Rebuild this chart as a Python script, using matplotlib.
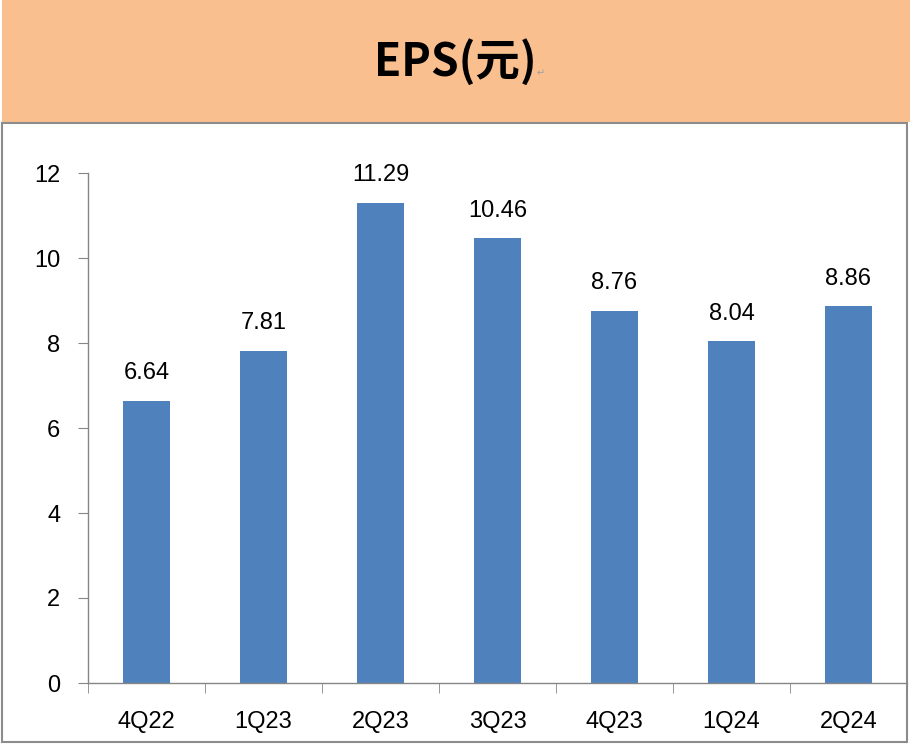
import matplotlib
matplotlib.use("Agg")
import matplotlib.pyplot as plt
from matplotlib.patches import Rectangle

categories = ["4Q22", "1Q23", "2Q23", "3Q23", "4Q23", "1Q24", "2Q24"]
eps = [6.64, 7.81, 11.29, 10.46, 8.76, 8.04, 8.86]
yticks = [0, 2, 4, 6, 8, 10, 12]

W, H = 912, 745
fig = plt.figure(figsize=(W/100, H/100), dpi=100)
fig.patch.set_facecolor("white")

# header band
fig.patches.append(Rectangle((2/W, 1-122/H), 908/W, 122/H, transform=fig.transFigure,
                             facecolor="#F9BF8F", edgecolor="none", zorder=0))
# chart frame
fig.patches.append(Rectangle((2.5/W, 1-742/H), 905/W, (742-123)/H, transform=fig.transFigure,
                             facecolor="white", edgecolor="#8C8C8C", linewidth=1.5, zorder=0))

fig.text(455/W, 1-62/H, "EPS(元)", ha="center", va="center", fontsize=32, fontweight="bold",
         family=["Noto Sans CJK TC", "DejaVu Sans"], color="black")
fig.text(541/W, 1-73/H, "↵", ha="center", va="center", fontsize=7, color="#A0A0A0",
         family=["DejaVu Sans"])

FS = 17
left, right, top, bottom = 88, 907, 173, 683
ax = fig.add_axes([left/W, 1-bottom/H, (right-left)/W, (bottom-top)/H])
ax.set_zorder(5)
ax.set_facecolor("none")
x = list(range(len(categories)))
bars = ax.bar(x, eps, width=0.4, color="#4F81BD", zorder=2)
ax.set_xlim(-0.5, len(categories)-0.5)
ax.set_ylim(0, 12)
ax.set_yticks(yticks)
ax.set_yticklabels([str(v) for v in yticks], fontsize=FS, family="Liberation Sans")
ax.set_xticks(x)
ax.set_xticklabels(categories, fontsize=FS, family="Liberation Sans")
ax.set_xticks([i - 0.5 for i in range(len(categories)+1)], minor=True)
ax.tick_params(axis="x", which="major", length=0, pad=20)
ax.tick_params(axis="x", which="minor", length=7, color="#868686", direction="out")
ax.tick_params(axis="y", length=7, color="#868686", direction="out", pad=13)
for s in ["top", "right"]:
    ax.spines[s].set_visible(False)
for s in ["left", "bottom"]:
    ax.spines[s].set_color("#868686")
    ax.spines[s].set_linewidth(1)

for xi, v in zip(x, eps):
    ax.annotate(f"{v:.2f}", (xi, v), xytext=(0, 20), textcoords="offset points",
                ha="center", va="center", fontsize=FS, family="Liberation Sans")

fig.savefig("out.png", dpi=100)
